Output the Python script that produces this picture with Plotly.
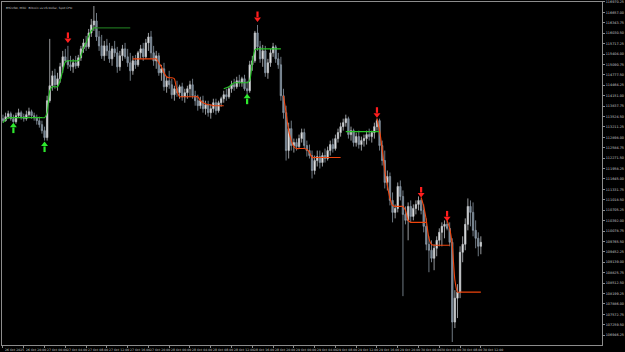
import plotly.graph_objects as go

# ---------------- data (BTCUSD, M30) ----------------
opens = [113460,113400,113520,113610,113460,113370,113550,113640,113520,113460,113580,113670,113550,113490,113400,113280,113100,
         112890,114000,114450,114750,114480,114660,115020,115320,115200,115080,115020,115140,115050,115290,115560,115740,115620,116040,116280,116400,115920,
         115650,115350,115650,115500,115260,115560,115440,115020,115350,115560,115320,115140,114900,115200,115080,115440,115560,115320,115740,115920,
         115440,115200,115350,114840,114960,114420,114600,114480,114180,114360,114240,114420,114120,114240,114360,114480,114150,114000,113850,114000,113760,113880,113640,113760,113940,
         113700,113940,114060,114180,114120,114360,114480,114420,114600,114540,114660,114360,114300,
         115080,115200,116040,115620,115260,115500,114840,115140,115440,115620,115260,115080,
         114150,113640,112500,113160,112650,112740,112620,112860,113040,112650,112500,112350,111900,112200,112320,112140,112350,112260,112500,112680,
         112560,112860,113040,113220,113340,113460,112980,113100,112740,112920,112680,112800,112860,112980,112920,113040,113220,113400,
         112650,112200,111540,111720,111000,110640,110760,111420,111120,110580,110400,110820,110520,110760,110880,111000,
         110700,110220,109680,109500,109260,109560,109800,110040,110220,110280,110160,109740,107340,108060,108240,109440,109680,110280,110820,110640,110100,109860,109620]
highs = [113580,113640,113700,113670,113580,113640,113760,113700,113610,113700,113790,113730,113640,113580,113520,113400,113220,
         114150,115860,114900,114960,114840,115140,115500,115560,115650,115350,115260,115350,115380,115650,115860,115950,116160,116460,116850,116640,116100,
         115980,115800,115860,115740,115650,115800,115620,115500,115680,115740,115560,115440,115350,115380,115500,115680,115740,115860,116040,116100,
         115650,115500,115440,115080,115140,114720,114900,114660,114450,114600,114480,114540,114360,114450,114600,114660,114300,114180,114120,114150,114000,114000,113880,114060,114060,
         114000,114120,114300,114360,114420,114600,114660,114720,114780,114720,114780,114600,115200,
         115350,116100,116280,115800,115680,115650,115260,115560,115740,115680,115440,115320,
         114360,113850,113340,113400,112860,112860,112980,113160,113160,112800,112680,112500,112350,112500,112500,112440,112560,112620,112800,112860,
         112980,113160,113340,113460,113580,113520,113220,113160,113040,113100,112920,112980,113100,113160,113100,113340,113460,113460,
         112800,112500,111900,111840,111240,110880,111540,111600,111300,110820,110940,111000,110880,111000,111120,111060,
         110880,110460,109920,109800,109680,109920,110160,110340,110400,110400,110340,109860,108300,108480,109620,109920,110460,111060,111000,110940,110400,110040,109920]
lows = [113340,113370,113460,113400,113340,113310,113490,113430,113370,113400,113520,113460,113400,113280,113190,113010,112800,
        112800,113940,114300,114360,114300,114540,114840,115140,114960,114900,114840,114960,114990,115200,115440,115500,115560,115920,116100,115800,115500,
        115260,115200,115350,115140,115050,115320,114840,114900,115200,115260,115020,114600,114780,114960,115020,115260,115200,115260,115500,115260,
        115050,114960,114750,114600,114300,114240,114360,114060,114000,114120,114060,114000,113940,114060,114120,114060,113850,113700,113760,113640,113580,113520,113460,113640,113580,
        113640,113820,113940,114000,114060,114240,114300,114360,114420,114420,114300,114180,114240,
        114900,115140,115500,115140,115020,114720,114660,115020,115320,115140,114960,114000,
        113460,112200,112260,112500,112440,112500,112560,112740,112560,112320,112260,111660,111780,112020,111960,112020,112140,112200,112350,112440,
        112500,112740,112920,113100,113220,112860,112800,112620,112620,112560,112500,112620,112680,112800,112740,112860,113100,112500,
        112050,111360,111300,110850,110340,110460,110640,111000,108120,110280,109800,110340,110400,110580,110700,110580,
        110040,109500,108840,109140,108900,109320,109620,109620,109860,110100,109620,106740,107160,107460,108060,109140,109500,110100,110220,109920,109560,109320,109380]
closes = [113400,113520,113610,113460,113370,113550,113640,113520,113460,113580,113670,113550,113490,113400,113280,113100,112890,
          114000,114450,114750,114480,114660,115020,115320,115200,115080,115020,115140,115050,115290,115560,115740,115620,116040,116280,116400,115920,115650,
          115350,115650,115500,115260,115560,115440,115020,115350,115560,115320,115140,114900,115200,115080,115440,115560,115320,115740,115920,115440,
          115200,115350,114840,114960,114420,114600,114480,114180,114360,114240,114420,114120,114240,114360,114480,114150,114000,113850,114000,113760,113880,113640,113760,113940,113700,
          113940,114060,114180,114120,114360,114480,114420,114600,114540,114660,114360,114300,115080,
          115200,116040,115620,115260,115500,114840,115140,115440,115620,115260,115080,114150,
          113640,112500,113160,112650,112740,112620,112860,113040,112650,112500,112350,111900,112200,112320,112140,112350,112260,112500,112680,112560,
          112860,113040,113220,113340,113460,112980,113100,112740,112920,112680,112800,112860,112980,112920,113040,113220,113400,112650,
          112200,111540,111720,111000,110640,110760,111420,111120,110580,110400,110820,110520,110760,110880,111000,110700,
          110220,109680,109500,109260,109560,109800,110040,110220,110280,110160,109740,107340,108060,108240,109440,109680,110280,110820,110640,110100,109860,109620,109740]

# trend-line indicator segments: (first bar index, values)
green_a_start = 0
green_a = [113340,113430] + [113490] * 15 + [113640,114300,114420,114420,114420,114600,114900,115170] + [115200] * 5 + [115350,115590,115740,115950,116100,116190,116190]
green_a_ext_start = 36
green_a_ext = [116190] * 14
red_a_start = 50
red_a = [115260] * 10 + [115140,115020,114840,114720,114690,114690,114660,114300] + [114120] * 8 + [114000,113940,113910,113880,113880] + [113850] * 5
green_b_start = 85
green_b = [114360,114390,114420,114480] + [114540] * 6 + [114600,115140,115530] + [115560] * 10
red_b_start = 108
red_b = [114150,113640,113100,112800,112620] + [112560] * 4 + [112530,112440] + [112290] * 12
green_c_start = 132
green_c = [113070] * 14
red_c_start = 144
red_c = [113460,113100,112560,111900,111450,111060,110850] + [110820] * 4 + [110700,110400] + [110340] * 7
red_d_start = 161
red_d = [111090,110820,110400,109860,109680] + [109650] * 7
red_e_start = 171
red_e = [110400,110160,109650,108600] + [108240] * 10

buy_bars = [4, 16, 94]
buy_prices = [113220, 112650, 114090]
sell_bars = [25, 98, 144, 161, 171]
sell_prices = [115860, 116490, 113610, 111210, 110490]

price_ticks = [116970.25,116657.00,116343.75,116030.50,115717.25,115404.00,115090.75,114777.50,114464.25,114151.00,
               113837.75,113524.50,113211.25,112898.00,112584.75,112271.50,111958.25,111645.00,111331.75,111018.50,
               110705.25,110392.00,110078.75,109765.50,109452.25,109139.00,108825.75,108512.50,108199.25,107886.00,
               107572.75,107259.50,106946.25]
time_labels = ["26 Oct 2025","26 Oct 20:00","27 Oct 00:00","27 Oct 04:00","27 Oct 08:00","27 Oct 12:00",
               "27 Oct 16:00","27 Oct 20:00","28 Oct 00:00","28 Oct 04:00","28 Oct 08:00","28 Oct 12:00",
               "28 Oct 16:00","28 Oct 20:00","29 Oct 00:00","29 Oct 04:00","29 Oct 08:00","29 Oct 12:00",
               "29 Oct 16:00","29 Oct 20:00","30 Oct 00:00","30 Oct 04:00","30 Oct 08:00","30 Oct 12:00"]
bars_per_label = 8
title_text = "BTCUSD, M30:  Bitcoin vs US Dollar, Spot CFD"

# ---------------- figure ----------------
W, H = 625, 352
ML, MR, MT, MB = 1, 21, 1, 7
ARROW_GAP = 110   # price offset between arrow head and its shaft
fig = go.Figure()

bar_idx = list(range(len(closes)))
fig.add_trace(go.Candlestick(
    x=bar_idx, open=opens, high=highs, low=lows, close=closes,
    increasing=dict(line=dict(color="#bfc3c7", width=0.8), fillcolor="#f4f4f4"),
    decreasing=dict(line=dict(color="#8c98a4", width=0.8), fillcolor="#6f7f8e"),
    whiskerwidth=0, hoverinfo="skip", showlegend=False))

def seg(start, vals, color, width=1.1):
    fig.add_trace(go.Scatter(x=list(range(start, start + len(vals))), y=vals, mode="lines",
                             line=dict(color=color, width=width, shape="spline", smoothing=0.5),
                             hoverinfo="skip", showlegend=False))

GREEN = "#27c227"
DKGREEN = "#1d6e1d"
RED = "#f0440c"
seg(green_a_start, green_a, GREEN)
seg(green_a_ext_start, green_a_ext, DKGREEN)
seg(red_a_start, red_a, RED)
seg(green_b_start, green_b, GREEN)
seg(red_b_start, red_b, RED)
seg(green_c_start, green_c, GREEN)
seg(red_c_start, red_c, RED)
seg(red_d_start, red_d, RED)
seg(red_e_start, red_e, RED)

# arrows: head + shaft
fig.add_trace(go.Scatter(x=buy_bars, y=[p - ARROW_GAP for p in buy_prices], mode="markers",
                         marker=dict(symbol="line-ns", size=4, line=dict(width=2.2, color="#2ee82e")),
                         hoverinfo="skip", showlegend=False))
fig.add_trace(go.Scatter(x=buy_bars, y=[p + 30 for p in buy_prices], mode="markers",
                         marker=dict(symbol="triangle-up", size=6, color="#2ee82e", line=dict(width=0)),
                         hoverinfo="skip", showlegend=False))
fig.add_trace(go.Scatter(x=sell_bars, y=[p + ARROW_GAP for p in sell_prices], mode="markers",
                         marker=dict(symbol="line-ns", size=4, line=dict(width=2.2, color="#ff1e1e")),
                         hoverinfo="skip", showlegend=False))
fig.add_trace(go.Scatter(x=sell_bars, y=[p - 30 for p in sell_prices], mode="markers",
                         marker=dict(symbol="triangle-down", size=6, color="#ff1e1e", line=dict(width=0)),
                         hoverinfo="skip", showlegend=False))

label_bars = [k * bars_per_label for k in range(len(time_labels))]
annotations = [dict(x=b, y=0, xref="x", yref="paper", yanchor="top", xanchor="left", xshift=0, yshift=-1,
                    text=t, showarrow=False, font=dict(size=3.1, color="#c8c8c8", family="DejaVu Sans"))
               for b, t in zip(label_bars, time_labels)]
annotations.append(dict(x=0, y=1, xref="paper", yref="paper", xanchor="left", yanchor="top", xshift=2, yshift=-2,
                        text=title_text, showarrow=False, font=dict(size=2.9, color="#c8c8c8", family="DejaVu Sans")))

fig.update_layout(
    width=W, height=H, margin=dict(l=ML, r=MR, t=MT, b=MB),
    paper_bgcolor="#000000", plot_bgcolor="#000000",
    boxgap=0.25,
    annotations=annotations,
    xaxis=dict(range=[-0.383, 230.65], showgrid=False, zeroline=False, rangeslider=dict(visible=False),
               showline=True, mirror=True, linecolor="#8c8c8c", linewidth=1,
               tickmode="array", tickvals=label_bars, ticktext=["" for _ in label_bars],
               ticks="outside", ticklen=2, tickcolor="#8c8c8c", showticklabels=False),
    yaxis=dict(range=[106650, 116970], side="right", showgrid=False, zeroline=False,
               showline=True, mirror=True, linecolor="#8c8c8c", linewidth=1,
               tickmode="array", tickvals=price_ticks, ticktext=[f"{v:.2f}" for v in price_ticks],
               ticks="outside", ticklen=2, tickcolor="#8c8c8c",
               tickfont=dict(size=3.4, color="#c8c8c8", family="DejaVu Sans")),
)

fig.write_html("out.html")
